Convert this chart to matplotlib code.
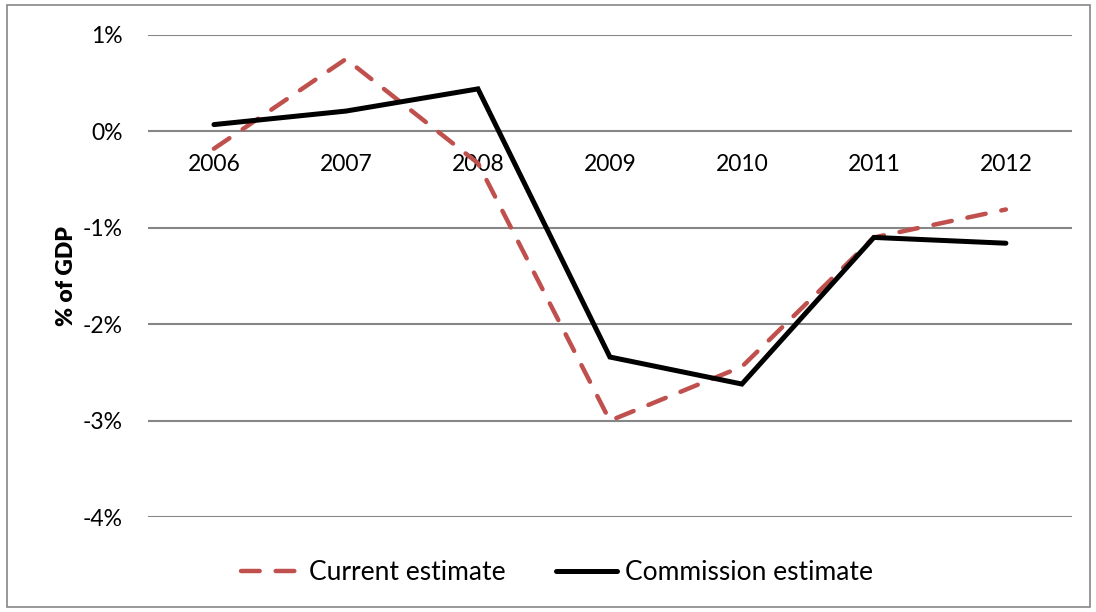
import matplotlib
matplotlib.use('Agg')
import matplotlib.pyplot as plt
from matplotlib.patches import Rectangle
from matplotlib.ticker import FuncFormatter

# data (% of GDP)
years = ['2006', '2007', '2008', '2009', '2010', '2011', '2012']
current_estimate = [-0.18, 0.75, -0.33, -3.00, -2.44, -1.10, -0.81]
commission_estimate = [0.07, 0.21, 0.44, -2.34, -2.62, -1.10, -1.16]
y_ticks = [1, 0, -1, -2, -3, -4]

plt.rcParams['font.family'] = ['Lato', 'DejaVu Sans']

fig = plt.figure(figsize=(10.96, 6.12), dpi=100)
ax = fig.add_axes([0.135, 0.155, 0.843, 0.788])

x = range(len(years))
ax.plot(x, current_estimate, color='#C0504D', lw=3.2, linestyle=(0, (4.2, 3.6)),
        dash_capstyle='round', label='Current estimate', zorder=3)
ax.plot(x, commission_estimate, color='black', lw=3.6, solid_capstyle='round',
        solid_joinstyle='miter', label='Commission estimate', zorder=4)

ax.set_xlim(-0.5, len(years) - 0.5)
ax.set_ylim(-4, 1)
ax.set_yticks(y_ticks)
ax.yaxis.set_major_formatter(FuncFormatter(lambda v, p: '%d%%' % v))
ax.set_xticks(list(x))
ax.set_xticklabels(years)
ax.grid(axis='y', color='#868686', lw=1.5, zorder=1)
ax.set_axisbelow(True)

for s in ['left', 'right', 'top']:
    ax.spines[s].set_visible(False)
ax.spines['bottom'].set_position(('data', 0))
ax.spines['bottom'].set_visible(False)
ax.tick_params(axis='both', length=0, labelsize=16.5)
ax.tick_params(axis='x', pad=16)
ax.tick_params(axis='y', pad=18)

ax.set_ylabel('% of GDP', fontsize=16.5, fontweight='heavy', labelpad=4)

fig.legend(loc='center', bbox_to_anchor=(0.508, 0.064), ncol=2, frameon=False,
           fontsize=19, handlelength=2.3, columnspacing=1.9, handletextpad=0.3)

fig.patches.append(Rectangle((0.0065, 0.008), 0.988, 0.984, transform=fig.transFigure,
                             fill=False, edgecolor='#868686', lw=1.2))

fig.savefig('out.png', dpi=100)
